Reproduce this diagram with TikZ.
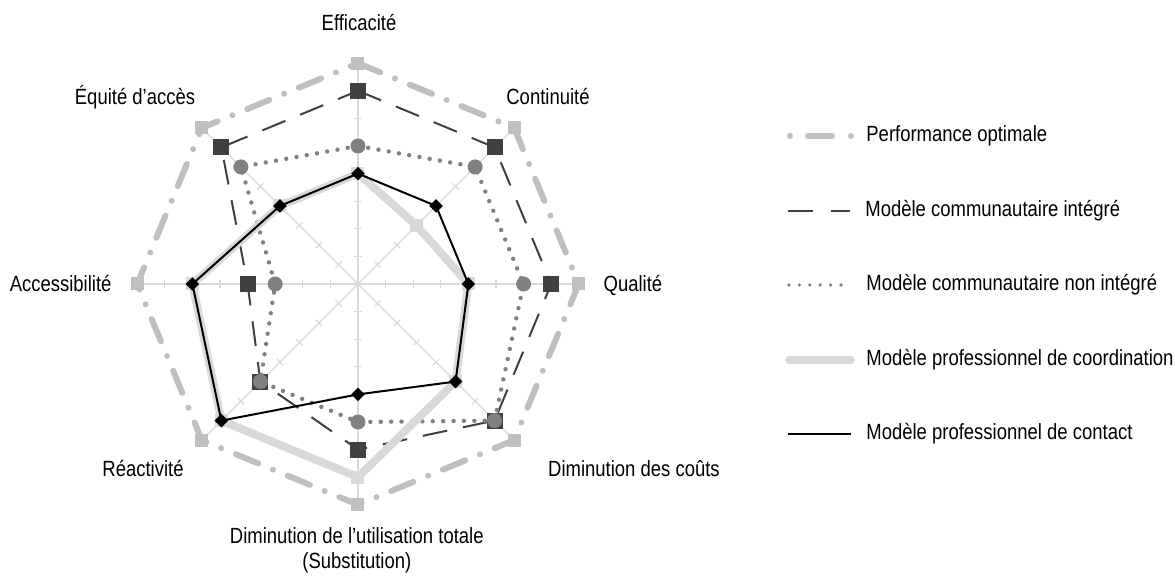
\documentclass[tikz,border=0pt]{standalone}
\usepackage{fontspec}
\setmainfont{Liberation Sans}[FakeStretch=0.84]
\usetikzlibrary{positioning}

\begin{document}
\begin{tikzpicture}[font=\fontsize{11pt}{12.5pt}\selectfont,
   axe/.style={draw=black!15,line width=0.6pt},
   optimale/.style={draw=black!25,line width=3pt,line cap=round,dash pattern=on 12pt off 8pt on 0pt off 8pt},
   integre/.style={draw=black!75,line width=1pt,dash pattern=on 12.5pt off 8pt},
   nonint/.style={draw=black!50,line width=2.2pt,line cap=round,dash pattern=on 0pt off 5.2pt},
   coord/.style={draw=black!15,line width=4pt,line cap=round,line join=round},
   contact/.style={draw=black,line width=1pt,line join=round},
   mopt/.style={rectangle,fill=black!25,minimum size=6.5pt,inner sep=0pt},
   mint/.style={rectangle,fill=black!75,minimum size=8pt,inner sep=0pt},
   mnon/.style={circle,fill=black!50,minimum size=7.5pt,inner sep=0pt},
   mcoo/.style={rectangle,fill=black!15,minimum size=6.5pt,inner sep=0pt},
   mcon/.style={rectangle,fill=black,minimum size=4.8pt,inner sep=0pt,rotate=45},
   lbl/.style={inner sep=0pt,anchor=base},
   legtxt/.style={inner sep=0pt,anchor=west}]
 \useasboundingbox (-179pt,-146.5pt) rectangle (408.5pt,142pt);
 \def\u{13.8pt}

 %assi con tacche
 \foreach \a in {0,...,7}{
   \begin{scope}[rotate=90-45*\a]
     \draw[axe] (0,0) -- (8*\u,0);
     \foreach \k in {1,...,8}
       \draw[axe] (\k*\u,-2.2pt) -- (\k*\u,2.2pt);
   \end{scope}
 }

 %punti delle serie
 \foreach \v [count=\i from 0] in {8,8,8,8,8,8,8,8}
   \coordinate (opt-\i) at (90-45*\i:\v*\u);
 \foreach \v [count=\i from 0] in {7,7,7,7,6,5,4,7}
   \coordinate (int-\i) at (90-45*\i:\v*\u);
 \foreach \v [count=\i from 0] in {5,6,6,7,5,5,3,6}
   \coordinate (non-\i) at (90-45*\i:\v*\u);
 \foreach \v [count=\i from 0] in {4,3,4,5,7,7,6,4}
   \coordinate (coo-\i) at (90-45*\i:\v*\u);
 \foreach \v [count=\i from 0] in {4,4,4,5,4,7,6,4}
   \coordinate (con-\i) at (90-45*\i:\v*\u);

 %performance optimale
 \draw[optimale] (opt-0) \foreach \i in {1,...,7}{ -- (opt-\i)} -- cycle;
 \foreach \i in {0,...,7} \node[mopt] (popt-\i) at (opt-\i) {};
 %communautaire integre
 \draw[integre] (int-0) \foreach \i in {1,...,7}{ -- (int-\i)} -- cycle;
 \foreach \i in {0,...,7} \node[mint] (pint-\i) at (int-\i) {};
 %communautaire non integre
 \draw[nonint] (non-0) \foreach \i in {1,...,7}{ -- (non-\i)} -- cycle;
 \foreach \i in {0,...,7} \node[mnon] (pnon-\i) at (non-\i) {};
 %professionnel de coordination
 \draw[coord] (coo-0) \foreach \i in {1,...,7}{ -- (coo-\i)} -- cycle;
 \foreach \i in {0,...,7} \node[mcoo] (pcoo-\i) at (coo-\i) {};
 %professionnel de contact
 \draw[contact] (con-0) \foreach \i in {1,...,7}{ -- (con-\i)} -- cycle;
 \foreach \i in {0,...,7} \node[mcon] (pcon-\i) at (con-\i) {};

 %etichette degli assi
 \node[lbl] (l-eff) at (0.5pt,126.6pt) {Efficacité};
 \node[lbl] (l-con) at (95pt,89.5pt) {Continuité};
 \node[lbl] (l-qua) at (137.5pt,-3.8pt) {Qualité};
 \node[lbl] (l-cou) at (138pt,-96.5pt) {Diminution des coûts};
 \node[lbl,align=center] (l-uti) at (-0.6pt,-142.5pt) {Diminution de l’utilisation totale\\(Substitution)};
 \node[lbl] (l-rea) at (-107.5pt,-96.5pt) {Réactivité};
 \node[lbl] (l-acc) at (-148.7pt,-3.8pt) {Accessibilité};
 \node[lbl] (l-equ) at (-111.5pt,89.5pt) {Équité d’accès};

 %legenda
 \coordinate (lg1a) at (216pt,74pt);    \coordinate (lg1b) at (246.5pt,74pt);
 \coordinate (lg2a) at (215pt,36.5pt);  \coordinate (lg2b) at (246pt,36.5pt);
 \coordinate (lg3a) at (215.5pt,-0.5pt);\coordinate (lg3b) at (245pt,-0.5pt);
 \coordinate (lg4a) at (215.5pt,-38pt); \coordinate (lg4b) at (246.5pt,-38pt);
 \coordinate (lg5a) at (215pt,-75pt);   \coordinate (lg5b) at (246.5pt,-75pt);
 \draw[optimale,dash pattern=on 0pt off 9pt on 12pt off 9.5pt on 0pt off 20pt] (lg1a) -- (lg1b);
 \draw[integre,dash pattern=on 12.5pt off 9pt] (lg2a) -- (lg2b);
 \draw[nonint,line width=1.8pt] (lg3a) -- (lg3b);
 \draw[coord,line width=3.6pt] (lg4a) -- (lg4b);
 \draw[contact] (lg5a) -- (lg5b);
 \node[legtxt,right=7.5pt of lg1b] (lt1) {Performance optimale};
 \node[legtxt,right=7.5pt of lg2b] (lt2) {Modèle communautaire intégré};
 \node[legtxt,right=9pt of lg3b]   (lt3) {Modèle communautaire non intégré};
 \node[legtxt,right=7.5pt of lg4b] (lt4) {Modèle professionnel de coordination};
 \node[legtxt,right=7.5pt of lg5b] (lt5) {Modèle professionnel de contact};
\end{tikzpicture}
\end{document}
